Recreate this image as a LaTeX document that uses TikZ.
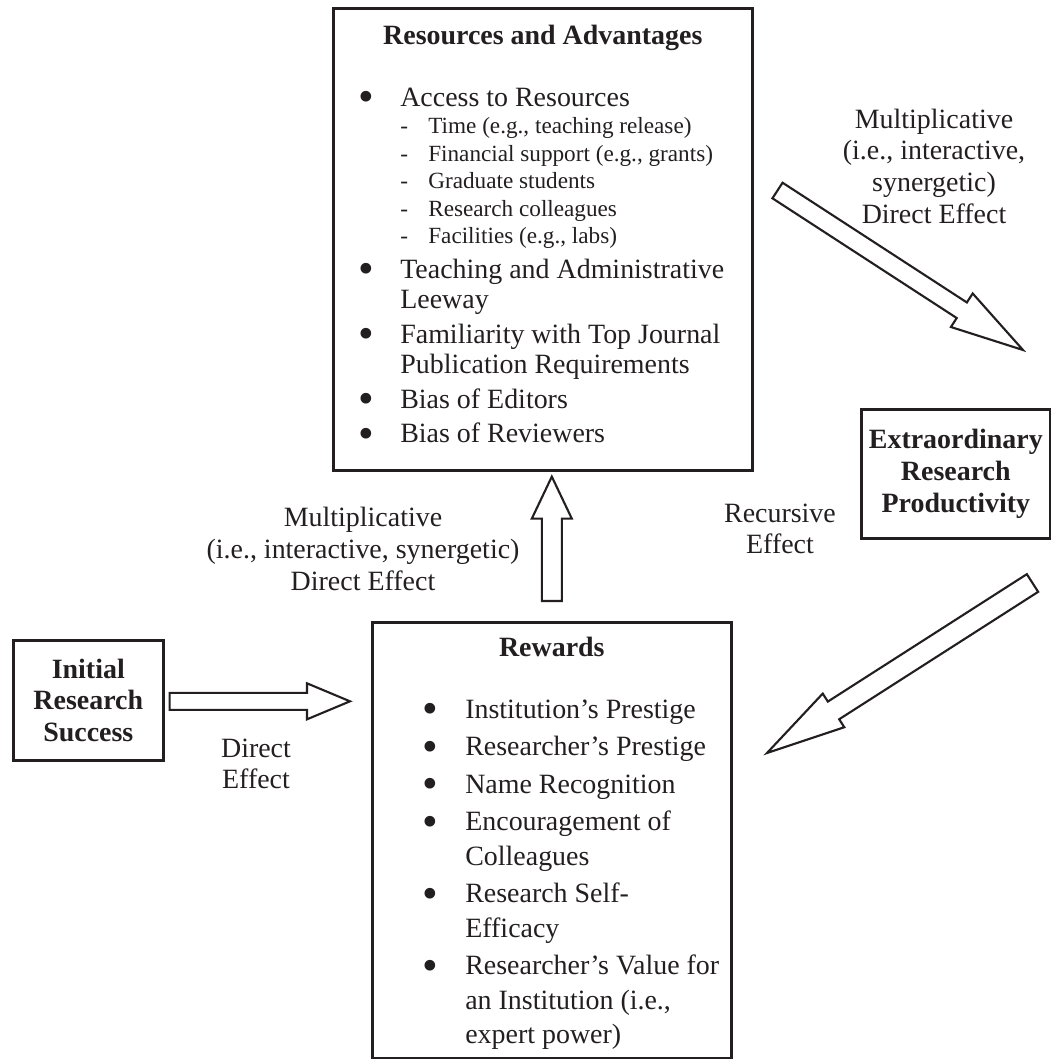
\documentclass[tikz,border=0pt]{standalone}
\usepackage{fontspec}
\setmainfont{Liberation Serif}
\usetikzlibrary{calc}
\usetikzlibrary{positioning}

\definecolor{ink}{HTML}{231F20}

% one pixel of the layout
\newlength{\px}\setlength{\px}{0.02cm}
\newlength{\bulpos}\newlength{\txtind}
\newlength{\dashpos}\newlength{\subind}
\newlength{\itemgap}

\newcommand{\bigbul}{\smash{\raisebox{-3pt}{\scalebox{1.6}{\textbullet}}}}
\newcommand{\bitem}[1]{\vspace{\itemgap}{\hangindent=\txtind\hangafter=1\noindent\hbox to\txtind{\hspace*{\bulpos}\makebox[0pt]{\bigbul}\hfil}#1\par}}
\newcommand{\ditem}[1]{{\fontsize{13.2}{15.65}\selectfont\noindent\hbox to\subind{\hspace*{\dashpos}-\hfil}#1\par}}

% block arrow: tail, tip, half shaft, half head, head length
\newcommand{\fatarrow}[5]{%
  \coordinate (fa-base) at ($(#2)!#5!(#1)$);
  \draw[fatline] ($(#1)!#3!90:(#2)$) -- ($(fa-base)!#3!90:(#2)$) -- ($(fa-base)!#4!90:(#2)$)
    -- (#2) -- ($(fa-base)!#4!-90:(#2)$) -- ($(fa-base)!#3!-90:(#2)$) -- ($(#1)!#3!-90:(#2)$) -- cycle;
}

\begin{document}
\begin{tikzpicture}[x=0.02cm, y=-0.02cm,
boxnode/.style={draw=ink, line width=1.5pt, inner sep=0pt, anchor=north west, text=ink},
titlebox/.style={boxnode, align=center, font=\bfseries\fontsize{15.9}{18}\selectfont},
efftext/.style={align=center, inner sep=0pt, text=ink, font=\fontsize{15.9}{18}\selectfont},
fatline/.style={draw=ink, line width=1.2pt, fill=white, line join=miter},
]
\useasboundingbox (0,0) rectangle (1051,1059);

% Boxes
\node[boxnode] (resources) at (332,7) {\parbox[t][462\px][t]{419\px}{\fontsize{15.9}{17.36}\selectfont
  \setlength{\bulpos}{33\px}\setlength{\txtind}{67\px}%
  \setlength{\dashpos}{67\px}\setlength{\subind}{95\px}%
  \setlength{\itemgap}{4\px}%
  {\centering\bfseries\rule{0pt}{36\px}Resources and Advantages\par}
  \vspace{27.5\px}
  \raggedright
  \bitem{Access to Resources}
  \ditem{Time (e.g., teaching release)}
  \ditem{Financial support (e.g., grants)}
  \ditem{Graduate students}
  \ditem{Research colleagues}
  \ditem{Facilities (e.g., labs)}
  \bitem{Teaching and Administrative\newline Leeway}
  \bitem{Familiarity with Top Journal\newline Publication Requirements}
  \bitem{Bias of Editors}
  \bitem{Bias of Reviewers}}};

\node[boxnode] (rewards) at (371,621) {\parbox[t][436\px][t]{359\px}{\fontsize{15.9}{19.63}\selectfont
  \setlength{\bulpos}{58\px}\setlength{\txtind}{93\px}%
  \setlength{\itemgap}{3\px}%
  {\centering\bfseries\rule{0pt}{34\px}Rewards\par}
  \vspace{24.5\px}
  \raggedright
  \bitem{Institution's Prestige}
  \bitem{Researcher's Prestige}
  \bitem{Name Recognition}
  \bitem{Encouragement of\newline Colleagues}
  \bitem{Research Self-\newline Efficacy}
  \bitem{Researcher's Value for\newline an Institution (i.e.,\newline expert power)}}};

\node[titlebox, minimum width=3cm, minimum height=2.4cm] (initial) at (12,639) {Initial\\Research\\Success};
\node[titlebox, minimum width=3.78cm, minimum height=2.58cm] (productivity) at (860,408) {Extraordinary\\Research\\Productivity};

% Effect labels
\node[efftext] (multtop) at (934,166) {Multiplicative\\(i.e., interactive,\\synergetic)\\Direct Effect};
\node[efftext] (multmid) at (363,549) {Multiplicative\\(i.e., interactive, synergetic)\\Direct Effect};
\node[efftext] (recursive) at (780,529) {Recursive\\Effect};
\node[efftext] (direct) at (256,764) {Direct\\Effect};

% Arrow ends
\coordinate (in-tail) at ($(initial.east)+(5,1)$);
\coordinate (in-tip) at ($(rewards.west |- in-tail)+(-21,0)$);
\coordinate (up-tail) at ($(rewards.north)+(0,-20)$);
\coordinate (up-tip) at ($(rewards.north |- resources.south)+(0,5)$);
\coordinate (out-tail) at (777.5,190.5);
\coordinate (out-tip) at (1023,350);
\coordinate (back-tail) at (1032.5,583);
\coordinate (back-tip) at (767,753);

\fatarrow{in-tail}{in-tip}{0.17cm}{0.36cm}{0.86cm}
\fatarrow{up-tail}{up-tip}{0.2cm}{0.4cm}{0.84cm}
\fatarrow{out-tail}{out-tip}{0.186cm}{0.4cm}{1.46cm}
\fatarrow{back-tail}{back-tip}{0.21cm}{0.4cm}{1.58cm}
\end{tikzpicture}
\end{document}
